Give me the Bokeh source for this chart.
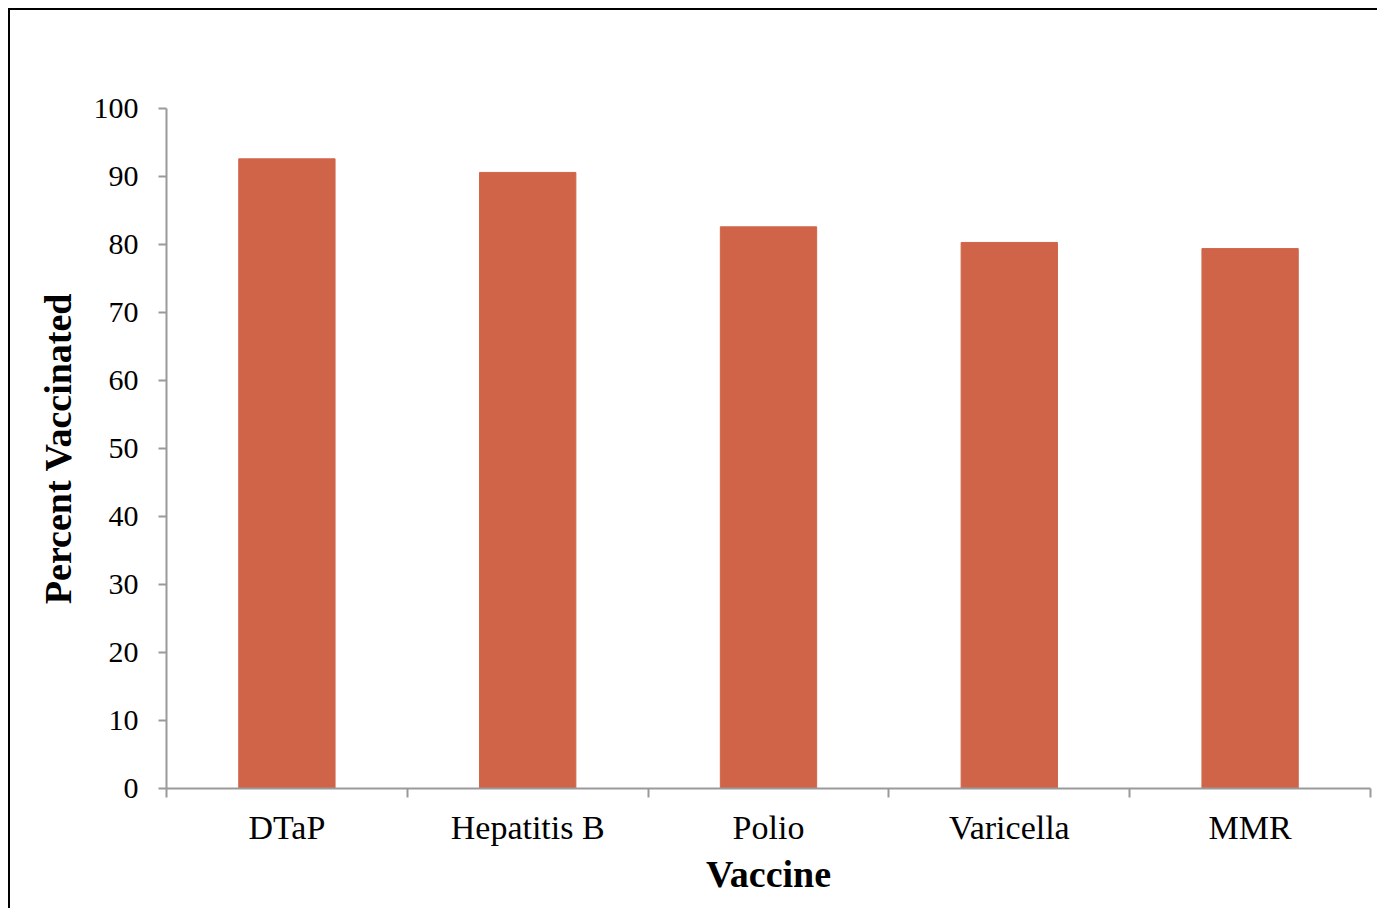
from bokeh.plotting import figure
from bokeh.models import FixedTicker, Range1d, ColumnDataSource
from bokeh.embed import file_html
from bokeh.resources import INLINE

vaccines = ["DTaP", "Hepatitis B", "Polio", "Varicella", "MMR"]
percent = [92.6, 90.6, 82.6, 80.3, 79.4]
y_ticks = [0, 10, 20, 30, 40, 50, 60, 70, 80, 90, 100]

FONT = "Liberation Serif"
BAR = "#D06449"
AXIS = "#9A9A9A"

xs = [i + 0.5 for i in range(len(vaccines))]
src = ColumnDataSource(dict(x=xs, top=percent, name=vaccines))

p = figure(width=1369, height=900, output_backend="svg", toolbar_location=None,
           x_range=Range1d(0, len(vaccines)), y_range=Range1d(0, 100),
           min_border_left=156, min_border_right=9, min_border_top=98, min_border_bottom=122)
p.styles = {"border-left": "2px solid black", "border-top": "2px solid black",
            "margin-left": "8px", "margin-top": "8px"}
p.outline_line_color = None
p.grid.visible = False

p.vbar(x="x", top="top", bottom=0, width=0.4, color=BAR, source=src)

xa = p.xaxis[0]
xa.ticker = FixedTicker(ticks=xs, minor_ticks=list(range(len(vaccines) + 1)))
xa.major_label_overrides = {x: n for x, n in zip(xs, vaccines)}
xa.major_tick_out = 0
xa.major_tick_in = 0
xa.minor_tick_out = 9
xa.minor_tick_in = 0
xa.minor_tick_line_color = AXIS
xa.minor_tick_line_width = 2
xa.axis_line_color = AXIS
xa.axis_line_width = 2
xa.major_label_text_font = FONT
xa.major_label_text_font_size = "34px"
xa.major_label_text_color = "black"
xa.major_label_standoff = 11
xa.axis_label = "Vaccine"
xa.axis_label_text_font = FONT
xa.axis_label_text_font_size = "38px"
xa.axis_label_text_font_style = "bold"
xa.axis_label_text_color = "black"
xa.axis_label_standoff = 4

ya = p.yaxis[0]
ya.ticker = FixedTicker(ticks=y_ticks)
ya.minor_tick_line_color = None
ya.major_tick_out = 8
ya.major_tick_in = 0
ya.major_tick_line_color = AXIS
ya.major_tick_line_width = 2
ya.axis_line_color = AXIS
ya.axis_line_width = 2
ya.major_label_text_font = FONT
ya.major_label_text_font_size = "30px"
ya.major_label_text_color = "black"
ya.major_label_standoff = 20
ya.axis_label = "Percent Vaccinated"
ya.axis_label_text_font = FONT
ya.axis_label_text_font_size = "38px"
ya.axis_label_text_font_style = "bold"
ya.axis_label_text_color = "black"
ya.axis_label_standoff = 12

open("out.html", "w").write(file_html(p, INLINE))
